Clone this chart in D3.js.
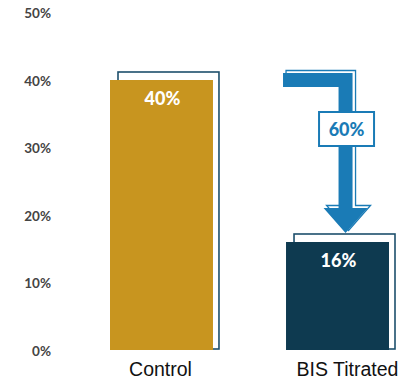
<!DOCTYPE html>
<html>
<head>
<meta charset="utf-8">
<script src="https://cdn.jsdelivr.net/npm/d3@7"></script>
<style>
  body { margin: 0; background: #fff; }
  svg { display: block; }
</style>
</head>
<body>
<div id="chart"></div>
<script>
let categories = ["Control", "BIS Titrated"];
let values = [40, 16];
let barColors = ["#c8951f", "#0e3a50"];
let tickValues = [0, 10, 20, 30, 40, 50];
let reduction = "60%";

let width = 407;
let height = 383;

let svg = d3.select("#chart")
    .append("svg")
    .attr("width", width)
    .attr("height", height);

let x = d3.scaleBand()
    .domain(categories)
    .range([110, 389])
    .paddingInner(0.415)
    .paddingOuter(0);

let y = d3.scaleLinear()
    .domain([0, 50])
    .range([350, 12.5]);

// y axis labels only
let yAxis = d3.axisLeft(y)
    .tickValues(tickValues)
    .tickFormat(d => d + "%")
    .tickSize(0);

svg.append("g")
    .attr("transform", "translate(54,1)")
    .call(yAxis)
    .call(g => g.select(".domain").remove())
    .selectAll("text")
    .attr("fill", "#444")
    .attr("font-family", "Lato, sans-serif")
    .attr("font-weight", "bold")
    .attr("font-size", 13.5);

let off = 8;

// frames behind bars
svg.append("g")
    .selectAll("rect")
    .data(categories)
    .enter()
    .append("rect")
    .attr("x", d => x(d) + off)
    .attr("y", (d, i) => y(values[i]) - off)
    .attr("width", x.bandwidth() - 2)
    .attr("height", (d, i) => y(0) - y(values[i]) + off - 1)
    .attr("fill", "#fff")
    .attr("stroke", "#1d4f6c")
    .attr("stroke-width", 1.6);

svg.append("g")
    .selectAll("rect")
    .data(categories)
    .enter()
    .append("rect")
    .attr("x", d => x(d))
    .attr("y", (d, i) => y(values[i]))
    .attr("width", x.bandwidth())
    .attr("height", (d, i) => y(0) - y(values[i]))
    .attr("fill", (d, i) => barColors[i]);

svg.append("g")
    .selectAll("text")
    .data(categories)
    .enter()
    .append("text")
    .attr("x", d => x(d) + x.bandwidth() / 2 + 1)
    .attr("y", (d, i) => y(values[i]) + 25)
    .attr("text-anchor", "middle")
    .attr("fill", "#fff")
    .attr("font-family", "Lato, sans-serif")
    .attr("font-weight", "900")
    .attr("font-size", 18)
    .text((d, i) => values[i] + "%");

// category labels
let labelNudge = [-1, 10];
svg.append("g")
    .selectAll("text")
    .data(categories)
    .enter()
    .append("text")
    .attr("x", (d, i) => x(d) + x.bandwidth() / 2 + labelNudge[i])
    .attr("y", 376)
    .attr("text-anchor", "middle")
    .attr("fill", "#111")
    .attr("font-family", "Liberation Sans, Arial, sans-serif")
    .attr("font-size", 19.5)
    .text(d => d);

// reduction arrow
let bx = x(categories[1]);
let bw = x.bandwidth();
let arrowTop = y(values[0]);
let tipY = y(values[1]) - 9;
let x0 = bx - 3;
let sx1 = bx + bw * 0.51;
let sx2 = sx1 + 14;
let headW = 22;
let headH = 25;
let pts = [
    [x0, arrowTop - 7], [sx2, arrowTop - 7], [sx2, tipY - headH],
    [(sx1 + sx2) / 2 + headW, tipY - headH], [(sx1 + sx2) / 2, tipY],
    [(sx1 + sx2) / 2 - headW, tipY - headH], [sx1, tipY - headH],
    [sx1, arrowTop + 7], [x0, arrowTop + 7]
];
let line = d3.line();
let arrowBlue = "#1a7bb6";

svg.append("path")
    .attr("d", line(pts.map(p => [p[0] + 3, p[1] - 2.5])) + "Z")
    .attr("fill", "#fff")
    .attr("stroke", arrowBlue)
    .attr("stroke-width", 1.3);

svg.append("path")
    .attr("d", line(pts) + "Z")
    .attr("fill", arrowBlue);

let boxW = 55, boxH = 34;
let cx = (sx1 + sx2) / 2;
svg.append("rect")
    .attr("x", cx - boxW / 2 + 1)
    .attr("y", 112)
    .attr("width", boxW)
    .attr("height", boxH)
    .attr("fill", "#fff")
    .attr("stroke", arrowBlue)
    .attr("stroke-width", 2);

svg.append("text")
    .attr("x", cx + 1)
    .attr("y", 136)
    .attr("text-anchor", "middle")
    .attr("fill", arrowBlue)
    .attr("font-family", "Lato, sans-serif")
    .attr("font-weight", "900")
    .attr("font-size", 18)
    .text(reduction);
</script>
</body>
</html>
